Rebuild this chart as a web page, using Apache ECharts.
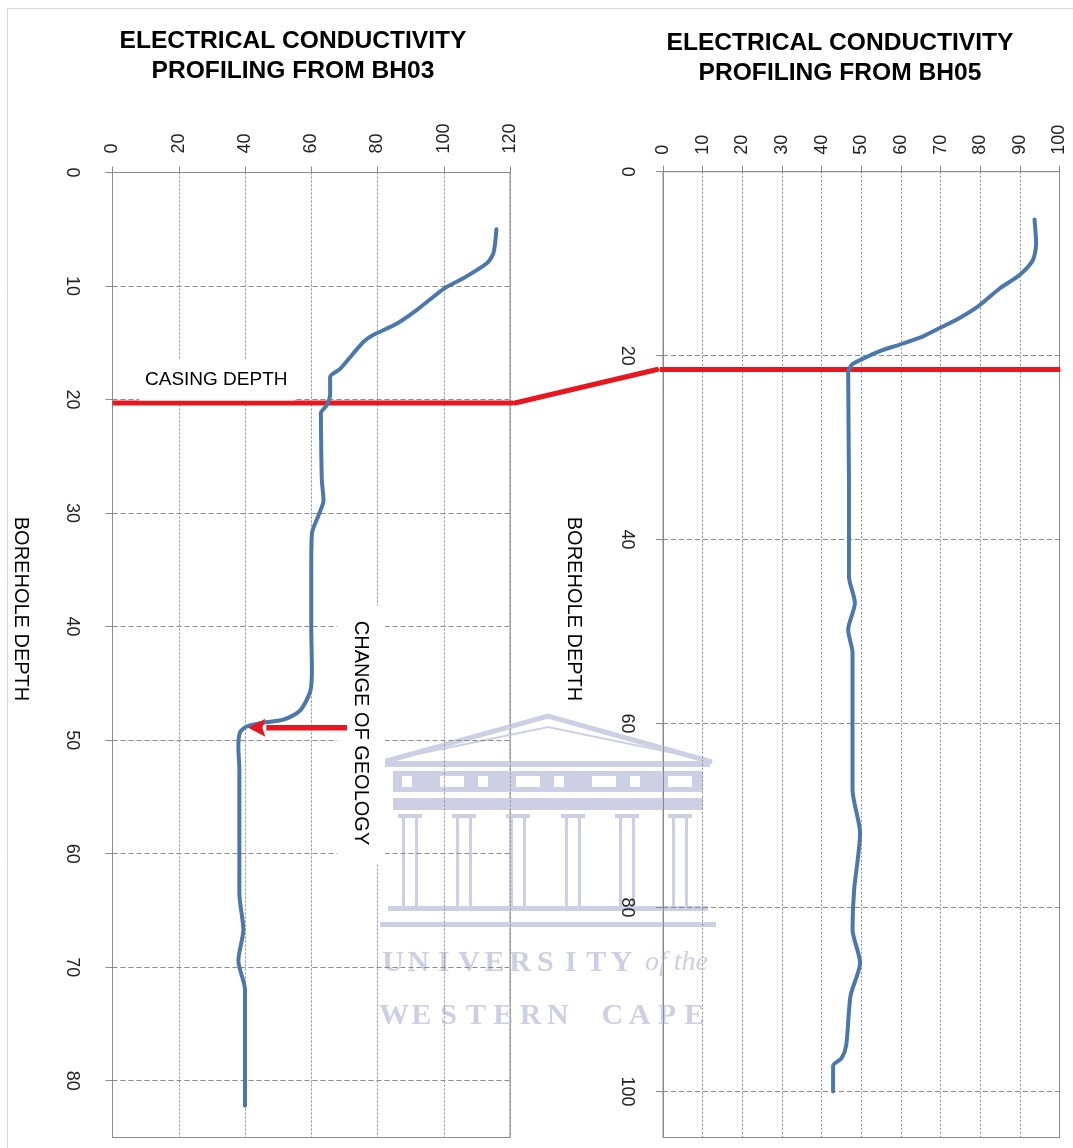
<!DOCTYPE html>
<html>
<head>
<meta charset="utf-8">
<script src="https://cdn.jsdelivr.net/npm/echarts@6/dist/echarts.min.js"></script>
<style>
  html, body { margin: 0; padding: 0; background: #ffffff; }
  #chart { width: 1073px; height: 1148px; }
</style>
</head>
<body>
<div id="chart"></div>
<script>
// Electrical conductivity logged down each borehole: depth (m) and reading
const bh03Depth = [5.0, 7.1, 8.0, 9.3, 10.2, 12.1, 13.3, 14.3, 14.9, 15.9, 17.3, 18.0, 19.5, 20.5, 21.2, 24.0, 27.1, 28.9, 30.2, 31.8, 35.0, 40.0, 43.8, 45.7, 47.4, 48.2, 48.5, 48.8, 49.3, 50.6, 52.6, 63.5, 66.7, 69.4, 72.0, 82.2];
const bh03Conductivity = [115.9, 115.0, 113.0, 106.0, 100.2, 91.9, 85.9, 78.8, 75.8, 72.8, 68.7, 65.7, 65.7, 64.7, 62.9, 63.0, 63.2, 63.7, 62.2, 60.2, 60.0, 60.0, 60.2, 59.7, 56.6, 51.6, 44.6, 40.5, 38.5, 38.0, 38.3, 38.3, 39.5, 38.0, 40.0, 40.0];

const bh05Depth = [5.2, 7.8, 9.6, 11.2, 12.7, 14.5, 15.9, 17.0, 17.9, 18.8, 19.5, 20.4, 21.0, 21.9, 33.5, 44.0, 46.9, 49.8, 52.3, 67.2, 71.9, 78.1, 82.4, 86.0, 89.6, 95.0, 96.4, 97.2, 100.0];
const bh05Conductivity = [93.7, 94.1, 93.3, 90.0, 84.9, 79.9, 74.8, 69.8, 65.6, 59.7, 54.7, 50.1, 47.6, 46.7, 46.9, 46.9, 48.4, 46.7, 47.8, 47.8, 49.7, 48.2, 47.8, 49.7, 47.3, 46.2, 45.0, 42.9, 42.9];

// Casing depth in each hole and the conductivity span the marker runs across
const bh03CasingDepth = 20.3;
const bh03CasingSpan = [0, 121.5];
const bh05CasingDepth = 21.5;
const bh05CasingSpan = [-1.5, 100.2];

// Change of geology arrow in BH03: tail and tip readings at its depth
const geologyDepth = 48.9;
const geologyArrowSpan = [70.8, 41.0];

// Axis ranges and tick steps
const bh03EcAxis = { min: 0, max: 120, step: 20 };
const bh05EcAxis = { min: 0, max: 100, step: 10 };
const bh03DepthAxis = { min: 0, max: 85, step: 10 };
const bh05DepthAxis = { min: 0, max: 105, step: 20 };

const titleLines = ['ELECTRICAL CONDUCTIVITY'];
const bh03Title = 'PROFILING FROM BH03';
const bh05Title = 'PROFILING FROM BH05';
const depthTitle = 'BOREHOLE DEPTH';
const casingLabel = 'CASING DEPTH';
const geologyLabel = 'CHANGE OF GEOLOGY';

const FONT = '"Liberation Sans", Arial, Helvetica, sans-serif';
const LINE_BLUE = '#4a78ad';
const MARK_RED = '#e8161e';
const GRID_GREY = '#8a8a8a';
const WATERMARK = '#cdd0e4';

function pairs(xs, ys) { return ys.map((d, i) => [xs[i], d]); }

function ecAxis(gridIndex, ax, labelMargin) {
  return {
    gridIndex: gridIndex,
    type: 'value',
    position: 'top',
    z: 2,
    min: ax.min, max: ax.max, interval: ax.step,
    axisLine: { show: true, onZero: false, lineStyle: { color: GRID_GREY, width: 1 } },
    axisTick: { show: true, inside: false, length: 6, lineStyle: { color: GRID_GREY } },
    axisLabel: { show: true, rotate: -90, margin: labelMargin, fontSize: 18, color: '#222', fontFamily: FONT },
    splitLine: { show: true, lineStyle: { color: GRID_GREY, type: [2, 2], width: 1 } }
  };
}

function depthAxis(gridIndex, ax, labelMargin) {
  return {
    gridIndex: gridIndex,
    type: 'value',
    inverse: true,
    z: 2,
    min: ax.min, max: ax.max, interval: ax.step,
    axisLine: { show: true, onZero: false, lineStyle: { color: GRID_GREY, width: 1 } },
    axisTick: { show: true, inside: false, length: 7, lineStyle: { color: GRID_GREY } },
    axisLabel: { show: true, rotate: -90, margin: labelMargin, fontSize: 18, color: '#222', fontFamily: FONT, showMaxLabel: false },
    splitLine: { show: true, lineStyle: { color: GRID_GREY, type: [5, 3], width: 1 } }
  };
}

const option = {
  animation: false,
  backgroundColor: '#ffffff',
  grid: [
    { left: 112.5, top: 172.5, width: 397.5, height: 965, show: true, borderColor: GRID_GREY, borderWidth: 1, backgroundColor: 'transparent', containLabel: false, outerBoundsMode: 'none' },
    { left: 663, top: 171.7, width: 396.5, height: 965.8, show: true, borderColor: GRID_GREY, borderWidth: 1, backgroundColor: 'transparent', containLabel: false, outerBoundsMode: 'none' }
  ],
  xAxis: [ecAxis(0, bh03EcAxis, 19), ecAxis(1, bh05EcAxis, 17)],
  yAxis: [depthAxis(0, bh03DepthAxis, 32), depthAxis(1, bh05DepthAxis, 27)],
  series: [
    {
      name: 'BH03', type: 'line', xAxisIndex: 0, yAxisIndex: 0,
      data: pairs(bh03Conductivity, bh03Depth),
      showSymbol: false, smooth: 0.25, z: 4,
      lineStyle: { color: LINE_BLUE, width: 4, cap: 'round', join: 'round' }
    },
    {
      name: 'BH05', type: 'line', xAxisIndex: 1, yAxisIndex: 1,
      data: pairs(bh05Conductivity, bh05Depth),
      showSymbol: false, smooth: 0.25, z: 4,
      lineStyle: { color: LINE_BLUE, width: 4, cap: 'round', join: 'round' }
    },
    {
      name: 'BH03 casing', type: 'line', xAxisIndex: 0, yAxisIndex: 0,
      data: bh03CasingSpan.map(v => [v, bh03CasingDepth]),
      showSymbol: false, clip: false, z: 3,
      lineStyle: { color: MARK_RED, width: 5 }
    },
    {
      name: 'BH05 casing', type: 'line', xAxisIndex: 1, yAxisIndex: 1,
      data: bh05CasingSpan.map(v => [v, bh05CasingDepth]),
      showSymbol: false, clip: false, z: 3,
      lineStyle: { color: MARK_RED, width: 5 }
    }
  ]
};

const chart = echarts.init(document.getElementById('chart'), null, { renderer: 'canvas' });
chart.setOption(option);

// Annotations placed from the axes' own scales
const casingA = chart.convertToPixel({ gridIndex: 0 }, [bh03CasingSpan[1], bh03CasingDepth]);
const casingB = chart.convertToPixel({ gridIndex: 1 }, [bh05CasingSpan[0], bh05CasingDepth]);
const arrowTail = chart.convertToPixel({ gridIndex: 0 }, [geologyArrowSpan[0], geologyDepth]);
const arrowTip = chart.convertToPixel({ gridIndex: 0 }, [geologyArrowSpan[1], geologyDepth]);

const dx = arrowTail[0] - arrowTip[0], dy = arrowTail[1] - arrowTip[1];
const len = Math.sqrt(dx * dx + dy * dy) || 1;
const ux = dx / len, uy = dy / len;
const headLen = 17, headHalf = 9;
const baseX = arrowTip[0] + ux * headLen, baseY = arrowTip[1] + uy * headLen;

function textEl(x, y, text, font, extra) {
  return Object.assign({
    type: 'text', x: x, y: y, z: 5,
    style: Object.assign({
      text: text, font: font, fill: '#000',
      align: 'center', verticalAlign: 'middle',
      textAlign: 'center', textVerticalAlign: 'middle'
    }, (extra && extra.style) || {})
  }, (extra && extra.el) || {});
}

// University watermark: temple front with lettering underneath (kept under the grid)
const wm = [];
wm.push({ type: 'polyline', z: 1, shape: { points: [[383, 762], [548, 716], [712, 762]] }, style: { stroke: WATERMARK, lineWidth: 5, fill: null } });
wm.push({ type: 'polyline', z: 1, shape: { points: [[408, 756], [548, 727], [688, 756]] }, style: { stroke: WATERMARK, lineWidth: 2, fill: null } });
wm.push({ type: 'rect', z: 1, shape: { x: 385, y: 761, width: 325, height: 6 }, style: { fill: WATERMARK } });
wm.push({ type: 'rect', z: 1, shape: { x: 393, y: 771, width: 310, height: 21 }, style: { fill: WATERMARK } });
for (let k = 0; k < 8; k++) {
  wm.push({ type: 'rect', z: 1, shape: { x: 402 + k * 38, y: 776, width: k % 2 ? 24 : 10, height: 11 }, style: { fill: '#ffffff' } });
}
wm.push({ type: 'rect', z: 1, shape: { x: 393, y: 798, width: 310, height: 12 }, style: { fill: WATERMARK } });
[410, 464, 518, 573, 627, 680].forEach(cx => {
  wm.push({ type: 'rect', z: 1, shape: { x: cx - 12, y: 814, width: 24, height: 4 }, style: { fill: WATERMARK } });
  wm.push({ type: 'rect', z: 1, shape: { x: cx - 8, y: 818, width: 3, height: 88 }, style: { fill: WATERMARK } });
  wm.push({ type: 'rect', z: 1, shape: { x: cx + 5, y: 818, width: 3, height: 88 }, style: { fill: WATERMARK } });
});
wm.push({ type: 'rect', z: 1, shape: { x: 388, y: 906, width: 320, height: 5 }, style: { fill: WATERMARK } });
wm.push({ type: 'rect', z: 1, shape: { x: 380, y: 922, width: 336, height: 5 }, style: { fill: WATERMARK } });
const wmTop = 'UNIVERSITY', wmBottom = 'WESTERN CAPE';
for (let i = 0; i < wmTop.length; i++) {
  wm.push(textEl(393 + i * 25.4, 963, wmTop[i], 'bold 30px "Liberation Serif", serif', { style: { fill: WATERMARK }, el: { z: 1 } }));
}
wm.push({ type: 'text', x: 645, y: 963, z: 1, style: { text: 'of the', font: 'italic 28px "Liberation Serif", serif', fill: WATERMARK, align: 'left', verticalAlign: 'middle', textAlign: 'left', textVerticalAlign: 'middle' } });
for (let i = 0; i < wmBottom.length; i++) {
  wm.push(textEl(394 + i * 27.3, 1016, wmBottom[i], 'bold 30px "Liberation Serif", serif', { style: { fill: WATERMARK }, el: { z: 1 } }));
}

const graphics = [
  // page frame
  { type: 'line', z: 0, shape: { x1: 7.5, y1: 8.5, x2: 1073, y2: 8.5 }, style: { stroke: '#d6d6d6', lineWidth: 1 } },
  { type: 'line', z: 0, shape: { x1: 7.5, y1: 8.5, x2: 7.5, y2: 1148 }, style: { stroke: '#d6d6d6', lineWidth: 1 } },

  // panel titles
  textEl(293, 41.5, titleLines[0], 'bold 24.6px ' + FONT),
  textEl(293, 71, bh03Title, 'bold 24.6px ' + FONT),
  textEl(840, 43.5, titleLines[0], 'bold 24.6px ' + FONT),
  textEl(840, 73.5, bh05Title, 'bold 24.6px ' + FONT),

  // depth axis titles
  textEl(21, 609, depthTitle, '20px ' + FONT, { el: { rotation: -Math.PI / 2 } }),
  textEl(574, 609, depthTitle, '20px ' + FONT, { el: { rotation: -Math.PI / 2 } }),

  // casing label with its white box
  {
    type: 'text', x: 139, y: 380, z: 5,
    style: {
      text: casingLabel, font: '19px ' + FONT, fill: '#000',
      align: 'left', verticalAlign: 'middle', textAlign: 'left', textVerticalAlign: 'middle',
      backgroundColor: '#ffffff', padding: [13, 6, 9, 6]
    }
  },

  // change of geology label with its white box
  textEl(361, 735, geologyLabel, '20px ' + FONT, {
    el: { rotation: -Math.PI / 2 },
    style: { backgroundColor: '#ffffff', padding: [14, 19, 14, 15] }
  }),

  // casing connector between the two holes
  { type: 'line', z: 3, shape: { x1: casingA[0], y1: casingA[1], x2: casingB[0], y2: casingB[1] }, style: { stroke: MARK_RED, lineWidth: 5, lineCap: 'round' } },

  // geology arrow
  { type: 'line', z: 6, shape: { x1: arrowTail[0], y1: arrowTail[1], x2: baseX + ux, y2: baseY + uy }, style: { stroke: MARK_RED, lineWidth: 5.5 } },
  {
    type: 'polygon', z: 6,
    shape: { points: [
      [arrowTip[0], arrowTip[1]],
      [baseX - uy * headHalf, baseY + ux * headHalf],
      [baseX - ux * 3, baseY - uy * 3],
      [baseX + uy * headHalf, baseY - ux * headHalf]
    ] },
    style: { fill: MARK_RED }
  }
].concat(wm);

chart.setOption({ graphic: graphics });
</script>
</body>
</html>
